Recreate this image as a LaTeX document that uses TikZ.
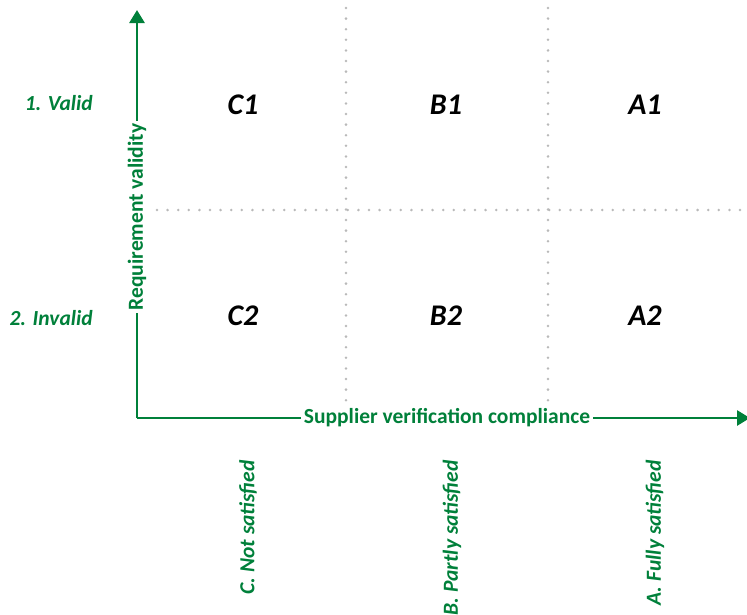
\documentclass[tikz,border=0pt]{standalone}
\usepackage{fontspec}
\setmainfont{Carlito}
\usetikzlibrary{arrows.meta,positioning}
\definecolor{axisgreen}{RGB}{0,128,58}
\definecolor{gridgray}{RGB}{185,185,185}

\begin{document}
\begin{tikzpicture}[x=1pt,y=-1pt,
		axis/.style={draw=axisgreen, line width=2.8pt, -{Triangle[width=15pt,length=13pt]}},
		grid/.style={draw=gridgray, line width=2.8pt, line cap=round, dash pattern=on 0pt off 10.6pt},
		cell/.style={font=\fontsize{30}{32}\selectfont\bfseries\itshape},
		axislabel/.style={fill=white, text=axisgreen, inner sep=3pt, font=\fontsize{21.5}{24}\selectfont\bfseries},
		level/.style={text=axisgreen, inner sep=0pt, font=\fontsize{21.5}{24}\selectfont\bfseries\itshape}]
		\useasboundingbox (0,0) rectangle (747,614);
		% grid lines
		\draw[grid] (346,8) -- (346,410);
		\draw[grid] (548,8) -- (548,410);
		\draw[grid] (157,210) -- (747,210);
		% axes
		\coordinate (o)		at (137,418);
		\coordinate (y_end)	at (137,10);
		\coordinate (x_end)	at (750,418);
		\draw[axis] (o) -- (y_end);
		\draw[axis] (o) -- (x_end);
		\node[axislabel, rotate=90] 	(y_lab) at (137,217) 	{Requirement validity};
		\node[axislabel] 				(x_lab) at (447,418) 	{Supplier verification compliance};
		% rows
		\node[level, anchor=east] 	(r_1) at (93,103) 	{1. Valid};
		\node[level, anchor=east] 	(r_2) at (93,318) 	{2. Invalid};
		% columns
		\node[level, rotate=90, anchor=east] 	(col_c) at (248,460) 	{C. Not satisfied};
		\node[level, rotate=90, anchor=east] 	(col_b) at (452,460) 	{B. Partly satisfied};
		\node[level, rotate=90, anchor=east] 	(col_a) at (655,460) 	{A. Fully satisfied};
		% cells
		\node[cell] 	(c_1) at (243,105) 	{C1};
		\node[cell] 	(b_1) at (446,105) 	{B1};
		\node[cell] 	(a_1) at (645,105) 	{A1};
		\node[cell] 	(c_2) at (243,316) 	{C2};
		\node[cell] 	(b_2) at (446,316) 	{B2};
		\node[cell] 	(a_2) at (645,316) 	{A2};
	\end{tikzpicture}
\end{document}
